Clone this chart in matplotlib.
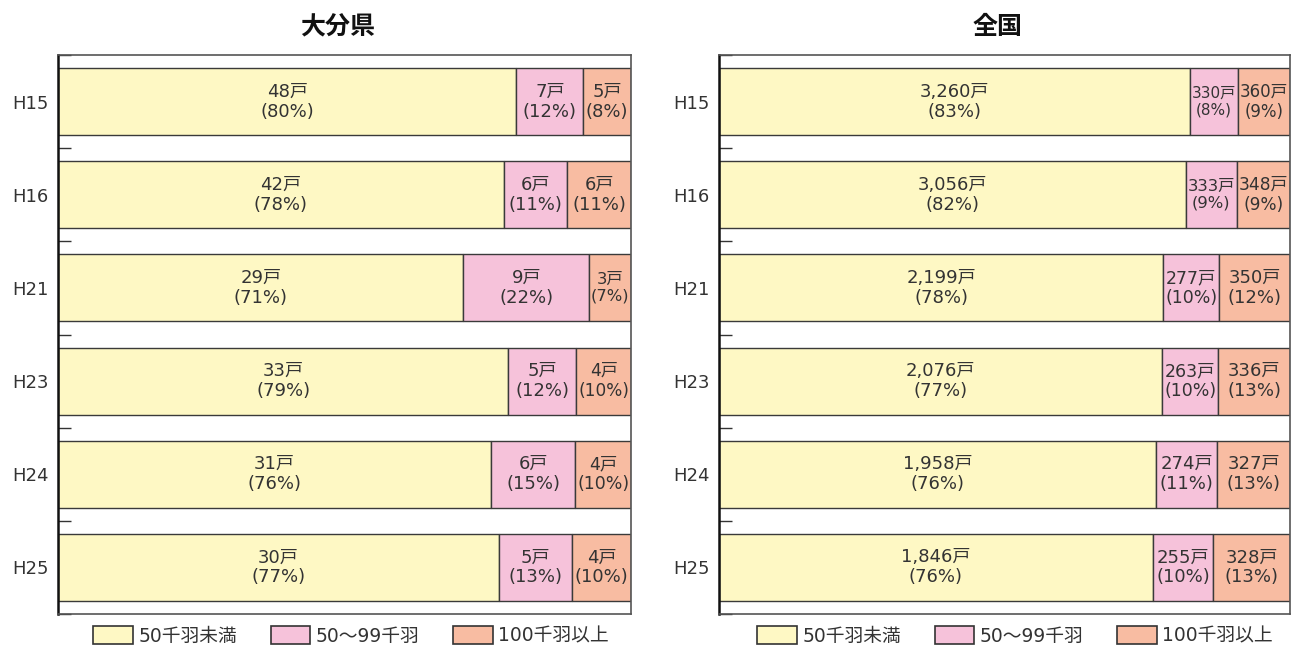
import matplotlib
matplotlib.use("Agg")
import matplotlib.pyplot as plt
from matplotlib.patches import Patch

plt.rcParams['font.family'] = ['DejaVu Sans', 'Noto Sans CJK JP']

years = ['H15', 'H16', 'H21', 'H23', 'H24', 'H25']
series_names = ['50千羽未満', '50～99千羽', '100千羽以上']
colors = ['#FEF8C4', '#F6C2DA', '#F8BCA2']

# 大分県 (戸数)
oita_small = [48, 42, 29, 33, 31, 30]
oita_mid = [7, 6, 9, 5, 6, 5]
oita_large = [5, 6, 3, 4, 4, 4]
oita_pct_small = [80, 78, 71, 79, 76, 77]
oita_pct_mid = [12, 11, 22, 12, 15, 13]
oita_pct_large = [8, 11, 7, 10, 10, 10]

# 全国 (戸数)
zen_small = [3260, 3056, 2199, 2076, 1958, 1846]
zen_mid = [330, 333, 277, 263, 274, 255]
zen_large = [360, 348, 350, 336, 327, 328]
zen_pct_small = [83, 82, 78, 77, 76, 76]
zen_pct_mid = [8, 9, 10, 10, 11, 10]
zen_pct_large = [9, 9, 12, 13, 13, 13]

fig = plt.figure(figsize=(13, 6.62), dpi=100)
renderer = fig.canvas.get_renderer()


def fit_text(ax, x, y, s, seg_px, fs=13):
    # shrink the label until it fits inside its segment
    t = ax.text(x, y, s, ha='center', va='center', fontsize=fs,
                color='#333333', linespacing=1.15)
    while fs > 8:
        w = t.get_window_extent(renderer=renderer).width
        if w <= seg_px - 3:
            break
        fs -= 0.25
        t.set_fontsize(fs)
    return t


def draw_panel(ax, title, counts, pcts):
    n = len(years)
    totals = [sum(c[i] for c in counts) for i in range(n)]
    ax_px = ax.get_window_extent(renderer=renderer).width
    left = [0.0] * n
    for k, (vals, pc) in enumerate(zip(counts, pcts)):
        widths = [v / t * 100 for v, t in zip(vals, totals)]
        ax.barh(range(n), widths, left=left, height=0.72, color=colors[k],
                edgecolor='#3a3a3a', linewidth=1.0)
        for i in range(n):
            cx = left[i] + widths[i] / 2
            fit_text(ax, cx, i, f"{vals[i]:,}戸\n({pc[i]}%)", widths[i] / 100 * ax_px)
        left = [l + w for l, w in zip(left, widths)]
    ax.set_xlim(0, 100)
    ax.set_ylim(n - 0.5, -0.5)
    ax.set_yticks(range(n))
    ax.set_yticklabels(years)
    ax.set_yticks([i - 0.5 for i in range(n + 1)], minor=True)
    ax.tick_params(axis='y', which='major', length=0, pad=7, labelsize=13,
                   labelcolor='#333333')
    ax.tick_params(axis='y', which='minor', direction='in', length=9,
                   width=1, color='#333333')
    ax.set_xticks([])
    for s in ['top', 'right', 'bottom']:
        ax.spines[s].set_color('#555555')
        ax.spines[s].set_linewidth(1.2)
    ax.spines['left'].set_color('#111111')
    ax.spines['left'].set_linewidth(1.8)
    ax.set_title(title, fontsize=18, fontweight='bold', pad=15, color='#111111',
                 x=0.488)


ax1 = fig.add_axes([0.0446, 0.0725, 0.4408, 0.8444])
ax2 = fig.add_axes([0.5531, 0.0725, 0.4392, 0.8444])

draw_panel(ax1, '大分県', [oita_small, oita_mid, oita_large],
           [oita_pct_small, oita_pct_mid, oita_pct_large])
draw_panel(ax2, '全国', [zen_small, zen_mid, zen_large],
           [zen_pct_small, zen_pct_mid, zen_pct_large])

handles = [Patch(facecolor=c, edgecolor='#333333', linewidth=1.2) for c in colors]
for cx in [351 / 1300, 1015 / 1300]:
    fig.legend(handles, series_names, loc='center', bbox_to_anchor=(cx, 26 / 662),
               ncol=3, frameon=False, fontsize=13.5, handlelength=2.1,
               handleheight=1.1, handletextpad=0.3, columnspacing=1.8,
               labelcolor='#333333')

fig.savefig('out.png', dpi=100)
